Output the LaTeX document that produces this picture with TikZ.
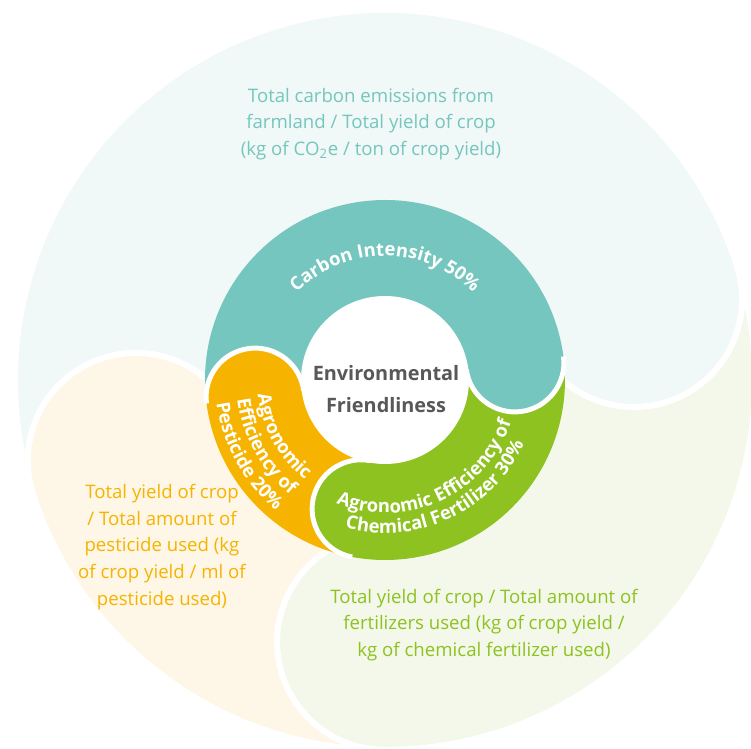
\documentclass[tikz,border=0pt]{standalone}
\usepackage{fontspec}
\setmainfont{Open Sans}
\usepackage{xcolor}
\usepackage{tikz}
\usetikzlibrary{decorations.text}

\definecolor{tealSeg}{RGB}{117,198,190}
\definecolor{greenSeg}{RGB}{141,194,32}
\definecolor{orangeSeg}{RGB}{246,180,0}
\definecolor{tealBg}{RGB}{241,248,248}
\definecolor{greenBg}{RGB}{244,248,234}
\definecolor{orangeBg}{RGB}{254,246,231}
\definecolor{grayTxt}{RGB}{89,87,87}

\newcommand{\segfont}{\bfseries\fontsize{10.5}{12}\selectfont}

\begin{document}
\begin{tikzpicture}[x=0.2mm,y=0.2mm,
    petal/.style={draw=white, line width=3.4pt},
    gap/.style={white, line width=2.8pt},
    desc/.style={align=center, inner sep=0pt, font=\fontsize{10.6}{15.3}\selectfont},
    seglabel/.style={decorate, decoration={text along path, text align=center,
        text color=white, text={|\segfont|#1}}}]
    \clip (-385,-368) rectangle (366,380);

    % Pétales extérieurs (50 / 30 / 20)
    \filldraw[petal, fill=tealBg] (198:370) arc[start angle=198, end angle=18, radius=370]
        arc[start angle=18, delta angle=-180, radius=108]
        arc[start angle=18, end angle=198, radius=154]
        arc[start angle=18, delta angle=180, radius=108] -- cycle;
    \filldraw[petal, fill=greenBg] (18:370) arc[start angle=18, end angle=-90, radius=370]
        arc[start angle=-90, delta angle=-180, radius=108]
        arc[start angle=-90, end angle=18, radius=154]
        arc[start angle=-162, delta angle=180, radius=108] -- cycle;
    \filldraw[petal, fill=orangeBg] (-90:370) arc[start angle=-90, end angle=-162, radius=370]
        arc[start angle=-162, delta angle=-180, radius=108]
        arc[start angle=-162, end angle=-90, radius=154]
        arc[start angle=-270, delta angle=180, radius=108] -- cycle;

    % Anneau intérieur
    \fill[tealSeg] (187.5:180) arc[start angle=187.5, end angle=7.5, radius=180]
        arc[start angle=7.5, delta angle=-180, radius=49]
        arc[start angle=7.5, end angle=187.5, radius=82]
        arc[start angle=7.5, delta angle=180, radius=49] -- cycle;
    \fill[greenSeg] (7.5:180) arc[start angle=7.5, end angle=-100.5, radius=180]
        arc[start angle=-100.5, delta angle=-180, radius=49]
        arc[start angle=-100.5, end angle=7.5, radius=82]
        arc[start angle=-172.5, delta angle=180, radius=49] -- cycle;
    \fill[orangeSeg] (-100.5:180) arc[start angle=-100.5, end angle=-172.5, radius=180]
        arc[start angle=-172.5, delta angle=-180, radius=49]
        arc[start angle=-172.5, end angle=-100.5, radius=82]
        arc[start angle=-280.5, delta angle=180, radius=49] -- cycle;
    \foreach \b in {7.5,-100.5,-172.5}
        \draw[gap] (\b:180) arc[start angle=\b, delta angle=-180, radius=49];
    \fill[white] (0,0) circle[radius=84];

    % Textes des segments
    \path[seglabel={Carbon Intensity 50{\%}}] (150:124) arc[start angle=150, end angle=30, radius=124];
    \path[seglabel={Agronomic Efficiency of}] (-125:133) arc[start angle=-125, end angle=-5, radius=133];
    \path[seglabel={Chemical Fertilizer 30{\%}}] (-125:153) arc[start angle=-125, end angle=-5, radius=153];
    \path[seglabel={Agronomic}] (-211:128) arc[start angle=-211, end angle=-91, radius=128];
    \path[seglabel={Efficiency of}] (-211:149) arc[start angle=-211, end angle=-91, radius=149];
    \path[seglabel={Pesticide 20{\%}}] (-211:170) arc[start angle=-211, end angle=-91, radius=170];

    % Centre et descriptions
    \node[font=\bfseries\fontsize{11.3}{18.4}\selectfont, text=grayTxt, align=center, inner sep=0pt]
        (envTxt) at (1,-9) {Environmental\\Friendliness};
    \node[desc, text=tealSeg] (carbonTxt) at (-14,256)
        {Total carbon emissions from\\farmland / Total yield of crop\\(kg of CO\textsubscript{2}e / ton of crop yield)};
    \node[desc, text=orangeSeg] (pestTxt) at (-223,-167)
        {Total yield of crop\\/ Total amount of\\pesticide used (kg\\of crop yield / ml of\\pesticide used)};
    \node[desc, text=greenSeg] (fertTxt) at (99,-245)
        {Total yield of crop / Total amount of\\fertilizers used (kg of crop yield /\\kg of chemical fertilizer used)};
\end{tikzpicture}
\end{document}
